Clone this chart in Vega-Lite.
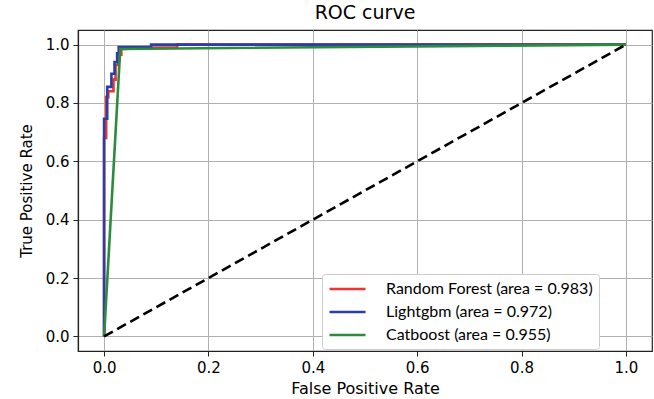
{
  "$schema": "https://vega.github.io/schema/vega-lite/v6.json",
  "width": 574,
  "height": 321,
  "autosize": {"type": "none"},
  "padding": {"left": 78, "top": 30, "right": 2, "bottom": 48},
  "background": "white",
  "title": {"text": "ROC curve", "font": "DejaVu Sans", "fontSize": 19, "fontWeight": "normal", "color": "black", "offset": 7},
  "config": {
    "view": {"stroke": "#222222", "strokeWidth": 1.2},
    "axis": {
      "grid": true, "gridColor": "#b0b0b0", "gridWidth": 1,
      "domainColor": "#222222", "domainWidth": 1.2,
      "tickColor": "#222222", "tickSize": 5, "tickWidth": 1,
      "labelFont": "DejaVu Sans", "labelFontSize": 15, "labelColor": "black", "labelPadding": 4,
      "titleFont": "DejaVu Sans", "titleFontSize": 15, "titleFontWeight": "normal", "titleColor": "black"
    }
  },
  "datasets": {
    "roc": [
      {"model": "Random Forest (area = 0.983)", "i": 0, "fpr": 0, "tpr": 0},
      {"model": "Random Forest (area = 0.983)", "i": 1, "fpr": 0, "tpr": 0.68},
      {"model": "Random Forest (area = 0.983)", "i": 2, "fpr": 0.004, "tpr": 0.68},
      {"model": "Random Forest (area = 0.983)", "i": 3, "fpr": 0.004, "tpr": 0.82},
      {"model": "Random Forest (area = 0.983)", "i": 4, "fpr": 0.008, "tpr": 0.82},
      {"model": "Random Forest (area = 0.983)", "i": 5, "fpr": 0.008, "tpr": 0.84},
      {"model": "Random Forest (area = 0.983)", "i": 6, "fpr": 0.018, "tpr": 0.84},
      {"model": "Random Forest (area = 0.983)", "i": 7, "fpr": 0.018, "tpr": 0.88},
      {"model": "Random Forest (area = 0.983)", "i": 8, "fpr": 0.022, "tpr": 0.88},
      {"model": "Random Forest (area = 0.983)", "i": 9, "fpr": 0.022, "tpr": 0.93},
      {"model": "Random Forest (area = 0.983)", "i": 10, "fpr": 0.027, "tpr": 0.93},
      {"model": "Random Forest (area = 0.983)", "i": 11, "fpr": 0.027, "tpr": 0.965},
      {"model": "Random Forest (area = 0.983)", "i": 12, "fpr": 0.033, "tpr": 0.965},
      {"model": "Random Forest (area = 0.983)", "i": 13, "fpr": 0.033, "tpr": 0.985},
      {"model": "Random Forest (area = 0.983)", "i": 14, "fpr": 0.04, "tpr": 0.985},
      {"model": "Random Forest (area = 0.983)", "i": 15, "fpr": 0.04, "tpr": 0.99},
      {"model": "Random Forest (area = 0.983)", "i": 16, "fpr": 0.14, "tpr": 0.99},
      {"model": "Random Forest (area = 0.983)", "i": 17, "fpr": 0.14, "tpr": 1.0},
      {"model": "Random Forest (area = 0.983)", "i": 18, "fpr": 1.0, "tpr": 1.0},
      {"model": "Lightgbm (area = 0.972)", "i": 0, "fpr": 0, "tpr": 0},
      {"model": "Lightgbm (area = 0.972)", "i": 1, "fpr": 0, "tpr": 0.746},
      {"model": "Lightgbm (area = 0.972)", "i": 2, "fpr": 0.006, "tpr": 0.746},
      {"model": "Lightgbm (area = 0.972)", "i": 3, "fpr": 0.006, "tpr": 0.855},
      {"model": "Lightgbm (area = 0.972)", "i": 4, "fpr": 0.014, "tpr": 0.855},
      {"model": "Lightgbm (area = 0.972)", "i": 5, "fpr": 0.014, "tpr": 0.9},
      {"model": "Lightgbm (area = 0.972)", "i": 6, "fpr": 0.02, "tpr": 0.9},
      {"model": "Lightgbm (area = 0.972)", "i": 7, "fpr": 0.02, "tpr": 0.94},
      {"model": "Lightgbm (area = 0.972)", "i": 8, "fpr": 0.025, "tpr": 0.94},
      {"model": "Lightgbm (area = 0.972)", "i": 9, "fpr": 0.025, "tpr": 0.97},
      {"model": "Lightgbm (area = 0.972)", "i": 10, "fpr": 0.028, "tpr": 0.97},
      {"model": "Lightgbm (area = 0.972)", "i": 11, "fpr": 0.028, "tpr": 0.992},
      {"model": "Lightgbm (area = 0.972)", "i": 12, "fpr": 0.09, "tpr": 0.992},
      {"model": "Lightgbm (area = 0.972)", "i": 13, "fpr": 0.09, "tpr": 1.0},
      {"model": "Lightgbm (area = 0.972)", "i": 14, "fpr": 1.0, "tpr": 1.0},
      {"model": "Catboost (area = 0.955)", "i": 0, "fpr": 0, "tpr": 0},
      {"model": "Catboost (area = 0.955)", "i": 1, "fpr": 0.031, "tpr": 0.985},
      {"model": "Catboost (area = 0.955)", "i": 2, "fpr": 1.0, "tpr": 1.0}
    ],
    "diag": [
      {"fpr": 0, "tpr": 0},
      {"fpr": 1, "tpr": 1}
    ]
  },
  "layer": [
    {
      "data": {"name": "roc"},
      "mark": {"type": "line", "strokeWidth": 2.6, "clip": true},
      "encoding": {
        "x": {"field": "fpr", "type": "quantitative", "scale": {"domain": [-0.05, 1.05], "nice": false, "zero": false},
              "axis": {"values": [0, 0.2, 0.4, 0.6, 0.8, 1.0], "format": ".1f", "title": "False Positive Rate", "titlePadding": 5, "titleFontSize": 16}},
        "y": {"field": "tpr", "type": "quantitative", "scale": {"domain": [-0.05, 1.05], "nice": false, "zero": false},
              "axis": {"values": [0, 0.2, 0.4, 0.6, 0.8, 1.0], "format": ".1f", "title": "True Positive Rate", "titlePadding": 11}},
        "color": {"field": "model", "type": "nominal",
                  "scale": {"domain": ["Random Forest (area = 0.983)", "Lightgbm (area = 0.972)", "Catboost (area = 0.955)"],
                            "range": ["#ee3333", "#2b3ea6", "#2a8c3c"]},
                  "legend": {"title": null, "orient": "none", "legendX": 244, "legendY": 244,
                             "fillColor": "white", "strokeColor": "#cccccc", "cornerRadius": 3, "padding": 6,
                             "labelFont": "Lato", "labelFontSize": 16, "labelColor": "black", "labelLimit": 400,
                             "symbolType": "M-1,0H3.8", "symbolStrokeWidth": 2.5, "symbolSize": 225,
                             "labelOffset": 40, "rowPadding": 6}},
        "order": {"field": "i", "type": "quantitative"}
      }
    },
    {
      "data": {"name": "diag"},
      "mark": {"type": "line", "color": "black", "strokeWidth": 2.6, "strokeDash": [10, 5]},
      "encoding": {
        "x": {"field": "fpr", "type": "quantitative"},
        "y": {"field": "tpr", "type": "quantitative"}
      }
    }
  ]
}
